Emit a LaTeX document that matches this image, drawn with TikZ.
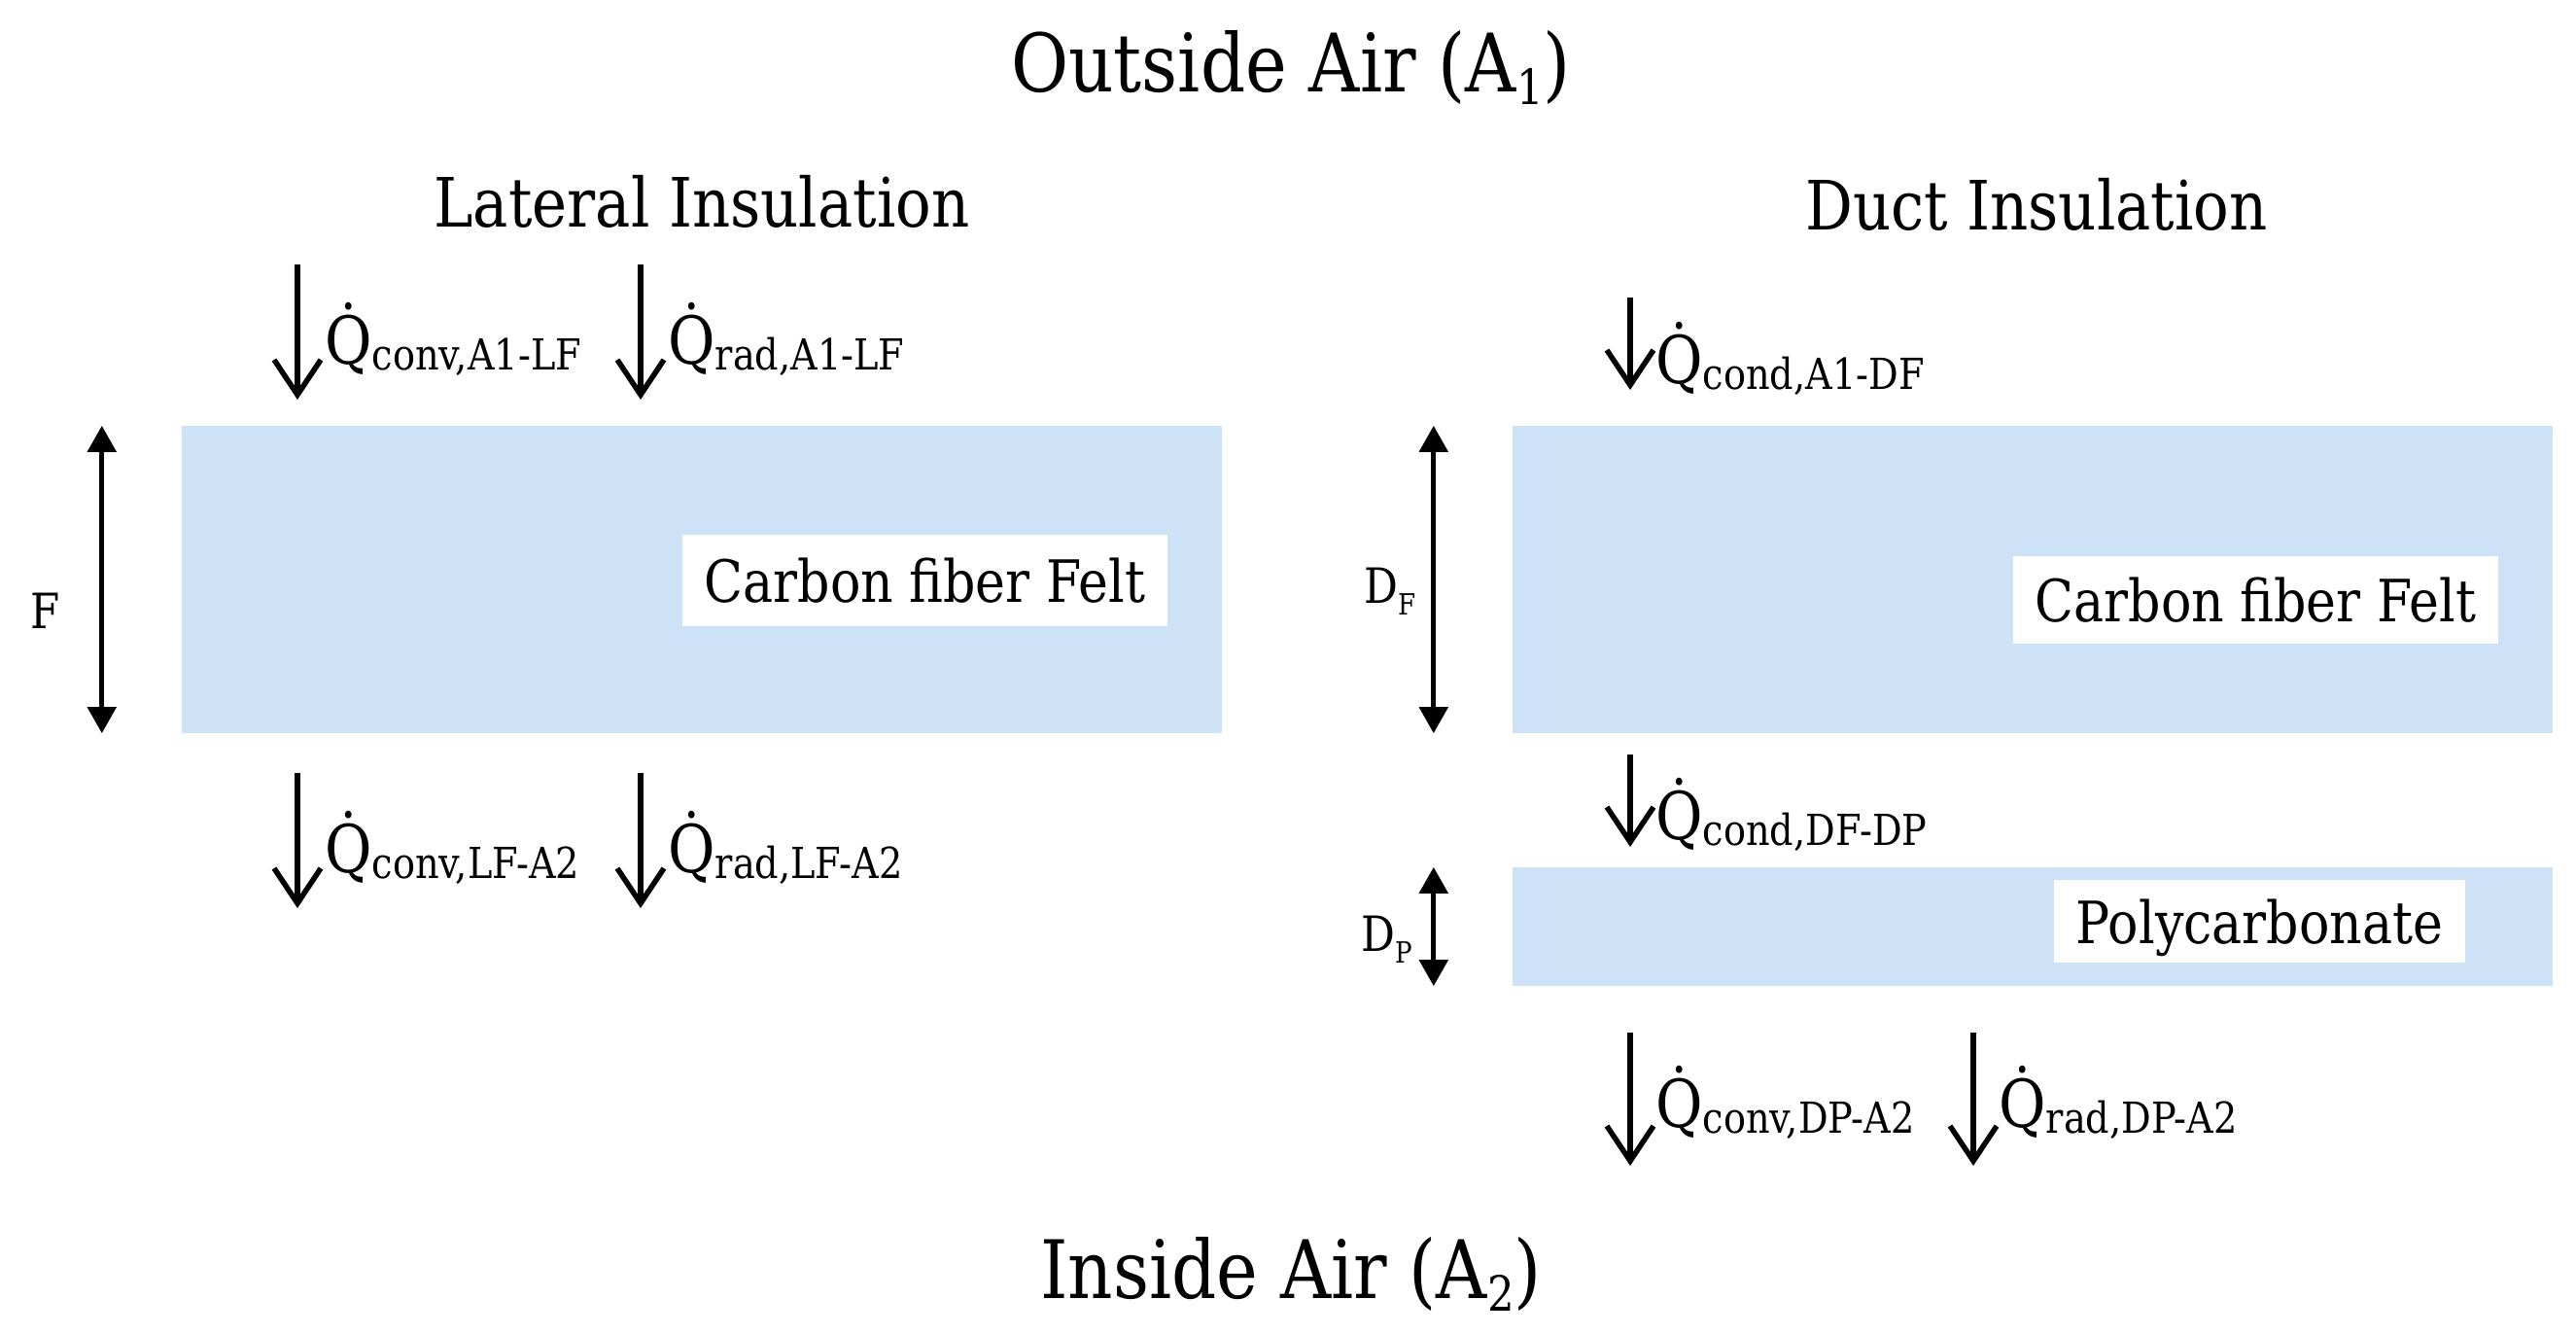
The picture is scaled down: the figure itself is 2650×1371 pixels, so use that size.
\documentclass[tikz,border=0pt]{standalone}
\usepackage{fontspec}
\setmainfont{DejaVu Serif}[FakeStretch=0.87]
\usetikzlibrary{arrows.meta}
\definecolor{layerblue}{RGB}{205,226,247}
\newcommand{\fs}[1]{\fontsize{#1}{#1}\selectfont}
\newcommand{\qsub}[1]{\.{Q}\raisebox{-6pt}{\fs{44}#1}}
\newcommand{\lowsub}[1]{\raisebox{-13pt}{\fs{50}#1}}
\newcommand{\dsub}[1]{\raisebox{-12pt}{\fs{30}#1}}
\begin{document}
\begin{tikzpicture}[x=1pt,y=-1pt,
  layer/.style={fill=layerblue, draw=none, inner sep=0pt, minimum width=1070pt},
  tag/.style={fill=white, draw=none, inner sep=0pt, minimum width=499pt, text depth=0pt, font=\fs{60}},
  heading/.style={anchor=base, inner sep=0pt, font=\fs{83}},
  subhead/.style={anchor=base, inner sep=0pt, font=\fs{70}},
  flowlbl/.style={anchor=base west, inner sep=0pt, font=\fs{68}},
  flow/.style={line width=5.5pt, -{Straight Barb[length=36pt,width=48pt]}},
  dimarrow/.style={line width=5pt, {Triangle[length=27pt,width=29pt]}-{Triangle[length=27pt,width=29pt]}},
  dimlbl/.style={anchor=base west, inner sep=0pt, font=\fs{50}}]
\useasboundingbox (0,0) rectangle (2650,1371);

% headings
\node[heading] (outair) at (1328,94) {Outside Air (A\lowsub{1})};
\node[subhead] (lat) at (722,233) {Lateral Insulation};
\node[subhead] (duct) at (2095,236) {Duct Insulation};
\node[heading] (inair) at (1328,1335) {Inside Air (A\lowsub{2})};

% layers
\node[layer, minimum height=316pt] (lf) at (722,596) {};
\node[layer, minimum height=316pt] (df) at (2091,596) {};
\node[layer, minimum height=122pt] (dp) at (2091,953) {};

% material tags
\node[tag, minimum height=94pt] (lftag) at (951.5,597) {Carbon fiber Felt};
\node[tag, minimum height=90pt] (dftag) at (2320.5,617) {Carbon fiber Felt};
\node[tag, minimum width=423pt, minimum height=85pt] (dptag) at (2324.5,947.5) {Polycarbonate};

% dimension arrows
\draw[dimarrow] ([xshift=-82pt]lf.north west) -- ([xshift=-82pt]lf.south west);
\node[dimlbl] (flbl) at (31,646) {F};
\draw[dimarrow] ([xshift=-81pt]df.north west) -- ([xshift=-81pt]df.south west);
\node[dimlbl] (dflbl) at (1403,620) {D\dsub{F}};
\draw[dimarrow] ([xshift=-81pt]dp.north west) -- ([xshift=-81pt]dp.south west);
\node[dimlbl] (dplbl) at (1400,978) {D\dsub{P}};

% heat flow arrows
\coordinate (a1s) at (306,272); \coordinate (a1e) at (306,411);
\coordinate (a2s) at (659,272); \coordinate (a2e) at (659,411);
\coordinate (a3s) at (306,795); \coordinate (a3e) at (306,934);
\coordinate (a4s) at (659,795); \coordinate (a4e) at (659,934);
\coordinate (b1s) at (1677,306); \coordinate (b1e) at (1677,401);
\coordinate (b2s) at (1677,776); \coordinate (b2e) at (1677,871);
\coordinate (b3s) at (1677,1062); \coordinate (b3e) at (1677,1199);
\coordinate (b4s) at (2030,1062); \coordinate (b4e) at (2030,1199);
\draw[flow] (a1s) -- (a1e);
\draw[flow] (a2s) -- (a2e);
\draw[flow] (a3s) -- (a3e);
\draw[flow] (a4s) -- (a4e);
\draw[flow] (b1s) -- (b1e);
\draw[flow] (b2s) -- (b2e);
\draw[flow] (b3s) -- (b3e);
\draw[flow] (b4s) -- (b4e);

\node[flowlbl] (q1) at (334,374) {\qsub{conv,A1-LF}};
\node[flowlbl] (q2) at (687,374) {\qsub{rad,A1-LF}};
\node[flowlbl] (q3) at (334,897) {\qsub{conv,LF-A2}};
\node[flowlbl] (q4) at (687,897) {\qsub{rad,LF-A2}};
\node[flowlbl] (q5) at (1703,394) {\qsub{cond,A1-DF}};
\node[flowlbl] (q6) at (1703,863) {\qsub{cond,DF-DP}};
\node[flowlbl] (q7) at (1703,1159) {\qsub{conv,DP-A2}};
\node[flowlbl] (q8) at (2056,1159) {\qsub{rad,DP-A2}};
\end{tikzpicture}
\end{document}
